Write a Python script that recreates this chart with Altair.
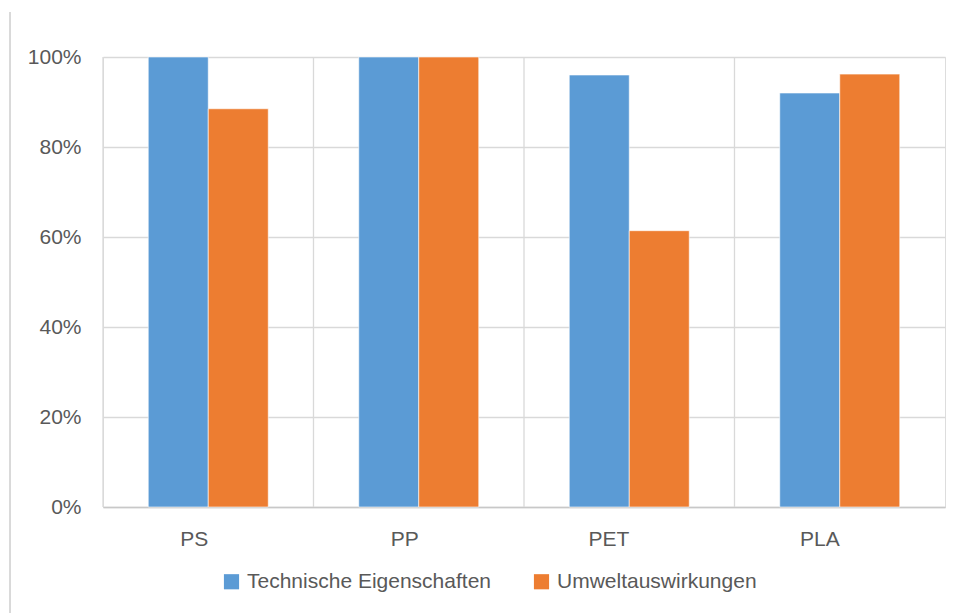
import altair as alt
import pandas as pd

materials = ["PS", "PP", "PET", "PLA"]
series = ["Technische Eigenschaften", "Umweltauswirkungen"]
technische = [1.00, 1.00, 0.96, 0.92]
umwelt = [0.885, 1.00, 0.614, 0.962]
colors = ["#5b9bd5", "#ed7d31"]

rows = []
for m, t, u in zip(materials, technische, umwelt):
    rows.append({"Material": m, "Serie": series[0], "Wert": t})
    rows.append({"Material": m, "Serie": series[1], "Wert": u})
df = pd.DataFrame(rows)
cats = pd.DataFrame({"Material": materials})

FONT = "Liberation Sans"
FS = 21
GRID = "#d9d9d9"
TEXT = "#595959"

x_scale = alt.Scale(domain=materials, paddingInner=0, paddingOuter=0)

bars = alt.Chart(df).mark_bar(stroke="white", strokeWidth=0.6).encode(
    x=alt.X("Material:N", scale=x_scale, sort=materials, title=None,
            axis=alt.Axis(labelAngle=0, labelFontSize=FS, labelColor=TEXT,
                          labelFont=FONT, labelPadding=32, ticks=False,
                          grid=False, domainColor="#c8c8c8", domainWidth=1.5)),
    xOffset=alt.XOffset("Serie:N", sort=series,
                        scale=alt.Scale(paddingInner=0, paddingOuter=0.754)),
    y=alt.Y("Wert:Q", scale=alt.Scale(domain=[0, 1]), title=None,
            axis=alt.Axis(format=".0%", values=[0, 0.2, 0.4, 0.6, 0.8, 1.0],
                          labelFontSize=FS, labelColor=TEXT, labelFont=FONT,
                          labelPadding=22, ticks=False, domain=False,
                          gridColor=GRID, gridWidth=1.3)),
    color=alt.Color("Serie:N", sort=series,
                    scale=alt.Scale(domain=series, range=colors),
                    legend=alt.Legend(title=None, orient="none", direction="horizontal",
                                      legendX=118, legendY=514,
                                      symbolType="square", symbolSize=230,
                                      symbolStrokeWidth=0, labelFontSize=FS,
                                      labelFont=FONT, labelColor=TEXT,
                                      labelOffset=5, columnPadding=40,
                                      labelLimit=400)),
)

# vertical separators at each category boundary
separators = alt.Chart(cats).mark_rule(color=GRID, strokeWidth=1.3).encode(
    x=alt.X("Material:N", scale=x_scale, sort=materials, bandPosition=0),
)

# thin frame line at the far left of the chart
frame = alt.Chart(cats).mark_rule(color=GRID, strokeWidth=1.2).encode(
    x=alt.value(-93), y=alt.value(-45), y2=alt.value(560),
)

chart = alt.layer(separators, bars, frame).properties(
    width=842, height=450,
    autosize="none",
    padding={"left": 103, "top": 57, "right": 15, "bottom": 106},
).configure_view(stroke=GRID, strokeWidth=1.3).configure(background="white")

chart.save("out.html", embed_options={"renderer": "svg", "actions": False})
